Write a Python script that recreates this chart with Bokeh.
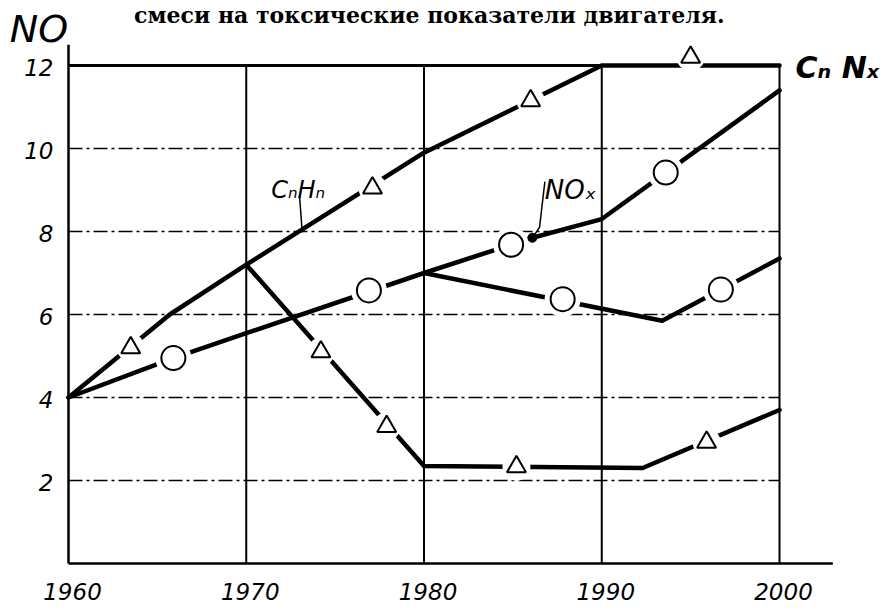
from bokeh.plotting import figure
from bokeh.models import Range1d, Label
from bokeh.core.properties import value
from bokeh.embed import file_html
from bokeh.resources import INLINE

# ---- data ----
x_ticks = [1960, 1970, 1980, 1990, 2000]
x_labels = ["1960", "1970", "1980", "1990", "2000"]
y_ticks = [2, 4, 6, 8, 10, 12]
y_labels = ["2", "4", "6", "8", "10", "12"]
dash_grid_y = [2, 4, 6, 8, 10]
vgrid_x = [1970, 1980, 1990, 2000]
x_axis_end = 2003.0
y_axis_top = 12.5

# CnHn upper line (triangles)
cnhn_x = [1960, 1965.7, 1970, 1980, 1990, 2000]
cnhn_y = [4.0, 6.0, 7.2, 9.9, 12.0, 12.0]
cnhn_mx = [1963.5, 1977.1, 1986.0, 1995.0]
cnhn_my = [5.2, 9.05, 11.15, 12.2]

# CnHn lower line (triangles)
cnlow_x = [1970, 1980, 1992.3, 2000]
cnlow_y = [7.2, 2.35, 2.3, 3.7]
cnlow_mx = [1974.2, 1977.9, 1985.2, 1995.9]
cnlow_my = [5.1, 3.3, 2.33, 2.92]

# NOx upper line (circles)
nox_x = [1960, 1965.9, 1970, 1980, 1986.1, 1990, 2000]
nox_y = [4.0, 4.95, 5.55, 7.0, 7.85, 8.3, 11.4]
nox_mx = [1965.9, 1976.9, 1984.9, 1993.6]
nox_my = [4.95, 6.58, 7.68, 9.42]
nox_dot_x = [1986.1]
nox_dot_y = [7.85]

# NOx lower line (circles)
noxl_x = [1980, 1993.4, 2000]
noxl_y = [7.0, 5.85, 7.35]
noxl_mx = [1987.8, 1996.7]
noxl_my = [6.37, 6.6]

title_text = "смеси на токсические показатели двигателя."
y_title = "NO"
lab_cnhn = "CₙHₙ"
lab_nox = "NOₓ"
lab_end = "Cₙ Nₓ"

# pointer lines for labels
ptr_cnhn_x = [1973.0, 1973.15]
ptr_cnhn_y = [8.85, 7.98]
ptr_nox_x = [1986.8, 1986.5, 1986.1]
ptr_nox_y = [9.2, 8.1, 7.85]

# ---- layout (pixel mapping of the frame) ----
W, H = 881, 604
PX_PER_YEAR = 17.775
PX_PER_UNIT = 41.5
LEFT_PX, ZERO_PX = 68, 563
x0 = 1960 - LEFT_PX / PX_PER_YEAR
y1 = ZERO_PX / PX_PER_UNIT

p = figure(width=W, height=H,
           x_range=Range1d(x0, x0 + W / PX_PER_YEAR),
           y_range=Range1d(y1 - H / PX_PER_UNIT, y1),
           x_axis_location=None, y_axis_location=None,
           min_border=0, output_backend="svg", toolbar_location=None)
p.outline_line_color = None
p.xgrid.visible = False
p.ygrid.visible = False
p.background_fill_color = "white"
p.border_fill_color = "white"

# grid lines drawn from tick lists
p.segment(x0=[x_ticks[0]] * len(dash_grid_y), x1=[x_ticks[-1]] * len(dash_grid_y),
          y0=dash_grid_y, y1=dash_grid_y, line_color="black", line_width=1.5,
          line_dash="14 4 3 4")
p.segment(x0=[x_ticks[0]], x1=[x_ticks[-1]], y0=[y_ticks[-1]], y1=[y_ticks[-1]],
          line_color="black", line_width=3)
p.segment(x0=vgrid_x, x1=vgrid_x, y0=[0] * len(vgrid_x), y1=[y_ticks[-1]] * len(vgrid_x),
          line_color="black", line_width=2)

# axes
p.segment(x0=[x_ticks[0]], x1=[x_axis_end], y0=[0], y1=[0], line_color="black", line_width=2.5)
p.segment(x0=[x_ticks[0]], x1=[x_ticks[0]], y0=[0], y1=[y_axis_top], line_color="black", line_width=2.5)

# tick labels
p.text(x=x_ticks, y=[0] * len(x_ticks), text=x_labels, text_align="center",
       text_baseline="middle", y_offset=28, x_offset=4,
       text_font=value("DejaVu Sans"), text_font_style="italic",
       text_font_size="23px", text_color="black")
p.text(x=[x_ticks[0]] * len(y_ticks), y=y_ticks, text=y_labels, text_align="right",
       text_baseline="middle", x_offset=-15, y_offset=2,
       text_font=value("DejaVu Sans"), text_font_style="italic",
       text_font_size="23px", text_color="black")

# series lines
for xs, ys in ((cnhn_x, cnhn_y), (cnlow_x, cnlow_y), (nox_x, nox_y), (noxl_x, noxl_y)):
    p.line(xs, ys, line_color="black", line_width=4.5, line_join="round", line_cap="round")

# halos (gaps around markers)
p.scatter(cnhn_mx + cnlow_mx, cnhn_my + cnlow_my, marker="circle", size=28,
          fill_color="white", line_color=None)
p.scatter(nox_mx + noxl_mx, nox_my + noxl_my, marker="circle", size=36,
          fill_color="white", line_color=None)

# markers
p.scatter(cnhn_mx + cnlow_mx, cnhn_my + cnlow_my, marker="triangle", size=19,
          fill_color="white", line_color="black", line_width=2)
p.scatter(nox_mx + noxl_mx, nox_my + noxl_my, marker="circle", size=24,
          fill_color="white", line_color="black", line_width=2)
p.scatter(nox_dot_x, nox_dot_y, marker="circle", size=9, fill_color="black", line_color="black")

# pointers
p.line(ptr_cnhn_x, ptr_cnhn_y, line_color="black", line_width=1.5)
p.line(ptr_nox_x, ptr_nox_y, line_color="black", line_width=1.5)

# labels
p.add_layout(Label(x=1980.3, y=y1 - 14 / PX_PER_UNIT, text=title_text, text_align="center",
                   text_baseline="alphabetic", text_font="DejaVu Serif",
                   text_font_style="bold", text_font_size="22px", text_color="black"))
p.add_layout(Label(x=1956.7, y=y1 - 28 / PX_PER_UNIT, text=y_title, text_align="left",
                   text_baseline="alphabetic", text_font="DejaVu Sans",
                   text_font_style="italic", text_font_size="38px", text_color="black"))
p.add_layout(Label(x=1971.4, y=9.0, text=lab_cnhn, text_align="left",
                   text_baseline="alphabetic", text_font="DejaVu Sans",
                   text_font_style="italic", text_font_size="24px", text_color="black"))
p.add_layout(Label(x=1986.8, y=9.0, text=lab_nox, text_align="left",
                   text_baseline="alphabetic", text_font="DejaVu Sans",
                   text_font_style="italic", text_font_size="26px", text_color="black"))
p.add_layout(Label(x=2000.9, y=11.95, text=lab_end, text_align="left",
                   text_baseline="alphabetic", text_font="DejaVu Sans",
                   text_font_style="bold italic", text_font_size="30px", text_color="black"))

open("out.html", "w").write(file_html(p, INLINE))
